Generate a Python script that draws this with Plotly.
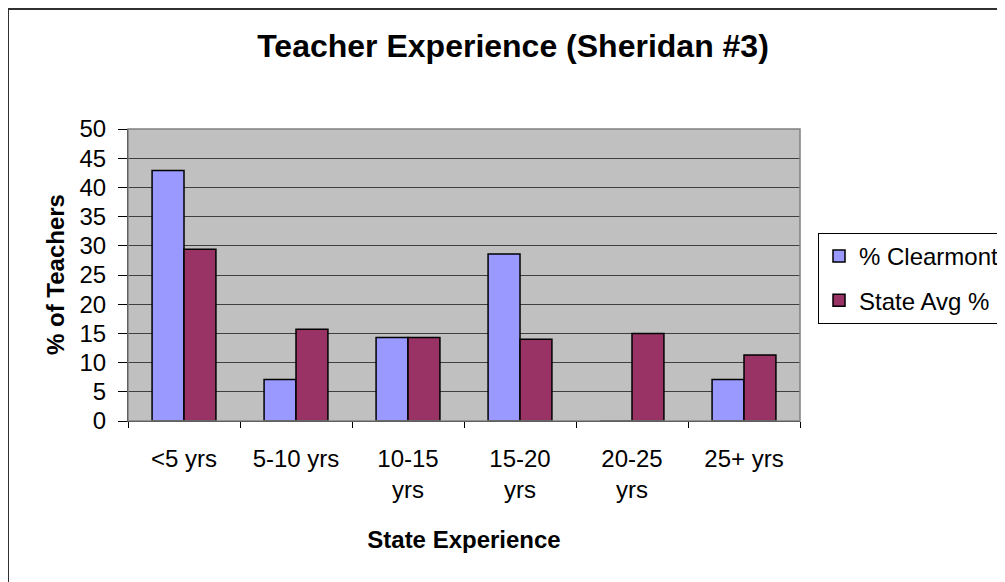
import plotly.graph_objects as go

categories = ["<5 yrs", "5-10 yrs", "10-15 yrs", "15-20 yrs", "20-25 yrs", "25+ yrs"]
tick_labels = ["<5 yrs", "5-10 yrs", "10-15<br>yrs", "15-20<br>yrs", "20-25<br>yrs", "25+ yrs"]
clearmont = [42.9, 7.1, 14.3, 28.6, 0, 7.1]
state_avg = [29.4, 15.7, 14.3, 14.0, 15.0, 11.3]
y_ticks = list(range(0, 55, 5))

# figure is placed at an 8px page offset; coordinates below are figure coords
W, H = 997, 574
L, R, T, B = 120, 792, 121, 413
PW, PH = R - L, B - T

fig = go.Figure()
fig.add_trace(go.Bar(x=categories, y=clearmont, name="% Clearmont", legendgroup="a",
                     marker=dict(color="#9999FF", line=dict(color="black", width=1.5))))
fig.add_trace(go.Bar(x=categories, y=state_avg, name="State Avg %", legendgroup="b",
                     marker=dict(color="#993366", line=dict(color="black", width=1.5))))

font = "Liberation Sans, Arial, sans-serif"
fig.update_layout(
    width=W, height=H,
    margin=dict(l=L, r=W - R, t=T, b=H - B, pad=0),
    paper_bgcolor="white", plot_bgcolor="#C0C0C0",
    font=dict(family=font, color="black", size=24),
    barmode="group", bargap=0.43, bargroupgap=0,
    title=dict(text="<b>Teacher Experience (Sheridan #3)</b>", xref="container", yref="container",
               x=505 / W, y=1 - 38 / H, xanchor="center", yanchor="middle",
               font=dict(size=32, family=font, color="black")),
    legend=dict(xref="container", yref="container", x=810 / W, y=1 - 225 / H,
                xanchor="left", yanchor="top",
                bordercolor="black", borderwidth=1, bgcolor="white",
                font=dict(size=24, family=font), tracegroupgap=10),
    showlegend=True,
)
fig.update_xaxes(
    tickmode="array", tickvals=categories, ticktext=tick_labels,
    tickson="boundaries", ticks="outside", ticklen=6, tickcolor="black",
    showline=True, linecolor="black", linewidth=1, showgrid=False,
    tickfont=dict(size=24, family=font), ticklabelstandoff=16,
    title=dict(text="<b>State Experience</b>", font=dict(size=24, family=font), standoff=29),
)
fig.update_yaxes(
    range=[0, 50], tickmode="array", tickvals=y_ticks,
    ticks="outside", ticklen=9, tickcolor="black",
    showline=True, linecolor="black", linewidth=1,
    showgrid=True, gridcolor="#404040", gridwidth=1, zeroline=False,
    tickfont=dict(size=24, family=font), ticklabelstandoff=7,
)
# y-axis title
fig.add_annotation(text="<b>% of Teachers</b>", xref="paper", yref="paper",
                   x=(47 - L) / PW, y=0.5, textangle=-90, showarrow=False,
                   xanchor="center", yanchor="middle",
                   font=dict(size=24, family=font, color="black"))
# plot area border (top/right gray)
fig.add_shape(type="rect", xref="paper", yref="paper", x0=0, x1=1, y0=0, y1=1,
              line=dict(color="#808080", width=1.5), layer="above")
# outer chart frame (top and left edges visible)
fig.add_shape(type="line", xref="paper", yref="paper",
              x0=(0 - L) / PW, x1=(1010 - L) / PW,
              y0=(B - 1) / PH, y1=(B - 1) / PH,
              line=dict(color="#303030", width=2))
fig.add_shape(type="line", xref="paper", yref="paper",
              x0=(0 - L) / PW, x1=(0 - L) / PW,
              y0=(B - 1) / PH, y1=(B - 600) / PH,
              line=dict(color="#303030", width=2))
fig.write_html("out.html")
